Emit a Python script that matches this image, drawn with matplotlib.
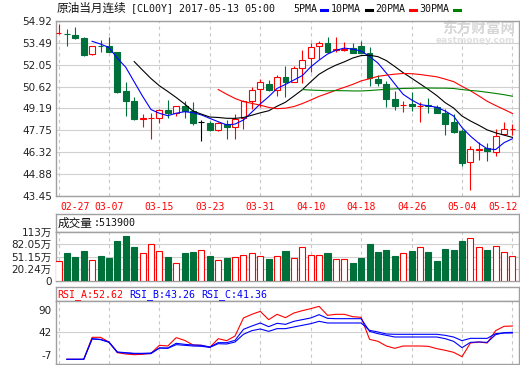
import numpy as np
import pandas as pd
import matplotlib
matplotlib.use("Agg")
import matplotlib.pyplot as plt
from matplotlib.lines import Line2D

# trading days shown on the chart
dates = ["02-27", "02-28", "03-01", "03-02", "03-03", "03-06", "03-07", "03-08", "03-09", "03-10",
         "03-13", "03-14", "03-15", "03-16", "03-17", "03-20", "03-21", "03-22", "03-23", "03-24",
         "03-27", "03-28", "03-29", "03-30", "03-31", "04-03", "04-04", "04-05", "04-06", "04-07",
         "04-10", "04-11", "04-12", "04-13", "04-14", "04-17", "04-18", "04-19", "04-20", "04-21",
         "04-24", "04-25", "04-26", "04-27", "04-28", "05-01", "05-02", "05-03", "05-04", "05-05",
         "05-08", "05-09", "05-10", "05-11", "05-12"]

opens = [54.13, 54.10, 54.02, 53.82, 52.74, 53.29, 53.27, 52.90, 50.31, 49.65,
         48.51, 48.55, 48.57, 49.08, 48.90, 49.34, 49.01, 48.31, 48.22, 47.80,
         48.20, 47.98, 48.55, 49.69, 50.44, 50.79, 50.37, 51.25, 50.94, 51.82,
         52.48, 53.27, 53.47, 53.05, 53.05, 53.12, 53.27, 52.81, 51.10, 50.79,
         49.78, 49.41, 49.49, 49.36, 49.43, 49.27, 48.90, 48.27, 47.69, 45.65,
         46.49, 46.60, 46.31, 47.54, 47.83]
highs = [54.74, 54.37, 54.52, 53.89, 53.31, 53.69, 53.86, 52.92, 50.92, 49.91,
         48.81, 48.90, 49.12, 49.74, 49.38, 49.65, 49.60, 48.42, 48.38, 48.33,
         48.42, 48.81, 49.74, 50.57, 51.10, 51.05, 51.38, 51.98, 51.99, 52.99,
         53.47, 53.58, 53.86, 53.86, 53.53, 53.47, 53.60, 53.20, 51.41, 51.01,
         50.35, 49.65, 50.29, 49.58, 49.85, 49.43, 49.14, 48.84, 47.83, 46.73,
         46.97, 46.90, 47.85, 48.27, 48.20]
lows = [54.04, 53.31, 53.71, 52.63, 52.66, 52.88, 52.88, 50.20, 48.70, 48.42,
        47.98, 47.19, 48.25, 48.57, 48.68, 48.57, 48.11, 47.06, 47.72, 47.69,
        47.19, 47.19, 47.87, 49.12, 49.27, 50.31, 50.00, 49.91, 50.90, 50.88,
        51.56, 52.46, 52.92, 52.92, 52.94, 52.83, 52.81, 50.63, 50.63, 49.30,
        49.10, 48.97, 49.03, 48.31, 48.88, 48.86, 47.48, 47.61, 45.41, 43.82,
        45.81, 45.72, 46.09, 47.50, 47.45]
closes = [54.15, 54.08, 53.78, 52.66, 53.27, 53.26, 52.92, 50.29, 49.69, 48.51,
          48.53, 48.57, 49.06, 48.90, 49.32, 49.03, 48.25, 48.31, 47.78, 48.22,
          48.00, 48.51, 49.65, 50.37, 50.90, 50.37, 51.23, 50.94, 51.82, 52.35,
          53.20, 53.47, 52.92, 53.07, 53.07, 52.85, 52.85, 51.16, 50.88, 49.78,
          49.32, 49.43, 49.32, 49.38, 49.34, 48.86, 48.20, 47.67, 45.61, 46.55,
          46.51, 46.38, 47.41, 47.87, 47.85]

# volume in 万
volumes = [40.8, 59.7, 49.4, 64.9, 43.4, 52.0, 46.9, 90.6, 103.5, 75.2,
           58.9, 82.0, 64.0, 49.4, 35.7, 59.7, 62.3, 66.6, 52.0, 43.4,
           46.9, 51.1, 53.7, 58.9, 52.0, 44.3, 52.0, 64.9, 46.9, 74.3,
           54.6, 54.6, 59.7, 46.0, 46.0, 34.0, 46.9, 82.9, 62.3, 67.4,
           52.9, 58.9, 64.9, 74.3, 62.3, 39.1, 70.0, 67.4, 90.6, 98.3,
           75.2, 67.4, 77.7, 61.4, 51.39]

rsi_a = [np.nan, -16.3, -16.3, -16.3, 31.1, 31.1, 21.0, -2.0, -4.8, -6.3,
         -5.5, -3.4, 13.9, 12.4, 30.4, 24.6, 14.6, 13.9, 9.5, 28.2,
         23.9, 34.0, 72.8, 80.7, 87.1, 69.2, 80.7, 73.5, 83.5, 88.6,
         92.9, 97.9, 78.5, 80.7, 80.7, 75.6, 74.2, 26.8, 22.5, 12.4,
         7.4, 12.4, 12.4, 12.4, 11.7, 6.7, 3.1, -1.2, -10.6, 18.9,
         21.0, 18.9, 45.5, 54.8, 55.5]
rsi_b = [np.nan, -16.3, -16.3, -16.3, 28.2, 26.8, 21.0, -0.5, -2.0, -3.4,
         -3.4, -2.7, 8.1, 8.1, 18.2, 16.0, 14.6, 13.9, 10.3, 19.6,
         19.6, 24.6, 48.3, 55.5, 62.0, 54.1, 61.3, 59.1, 65.6, 69.2,
         72.8, 79.9, 72.0, 71.3, 71.3, 71.3, 71.3, 44.0, 39.0, 35.4,
         31.8, 31.8, 31.8, 31.8, 31.8, 31.8, 28.2, 22.5, 8.8, 20.3,
         21.0, 20.3, 36.8, 41.1, 41.9]
rsi_c = [np.nan, -16.3, -16.3, -16.3, 27.5, 26.1, 20.3, -1.2, -2.7, -4.1,
         -4.1, -4.1, 8.1, 7.4, 15.3, 13.9, 12.4, 11.7, 9.5, 17.4,
         16.7, 21.0, 37.6, 45.5, 49.1, 44.0, 49.8, 49.8, 53.4, 57.0,
         60.5, 65.6, 62.0, 62.0, 62.0, 62.0, 62.0, 46.2, 42.6, 38.3,
         37.6, 37.6, 37.6, 37.6, 37.6, 37.6, 35.4, 31.8, 23.9, 28.9,
         28.9, 28.9, 39.0, 40.4, 40.4]

price_ticks = [54.92, 53.49, 52.05, 50.62, 49.19, 47.75, 46.32, 44.88, 43.45]
vol_ticks = [20.24, 51.15, 82.05, 113]
rsi_ticks = [-7, 42, 90]
ma_periods = [5, 10, 20, 30]
ma_colors = ["#0000ff", "#000000", "#ff0000", "#008000"]

RED = "#ff0000"
GREEN = "#00703a"
GRID = "#d0d0d0"
BORDER = "#a0a0a0"
LABEL = "#222222"
MONO = ["DejaVu Sans Mono", "Noto Sans CJK SC"]
SANS = ["DejaVu Sans", "Noto Sans CJK SC"]

W, H = 520, 365
fig = plt.figure(figsize=(W / 100, H / 100), dpi=100)
fig.patch.set_facecolor("white")


def box(x0, y0, x1, y1):
    return [x0 / W, 1 - y1 / H, (x1 - x0) / W, (y1 - y0) / H]


def fpos(x, y):
    return x / W, 1 - y / H


ax = fig.add_axes(box(56, 21, 519, 196))
axvh = fig.add_axes(box(56, 214, 519, 232))
axv = fig.add_axes(box(56, 232, 519, 281))
axrh = fig.add_axes(box(56, 287, 519, 301))
axr = fig.add_axes(box(56, 301, 519, 364))

x = np.arange(len(dates))
o = np.array(opens)
c = np.array(closes)
up = c > o
flat = c == o
vol_red = c >= o

for a in [ax, axvh, axv, axrh, axr]:
    for s in a.spines.values():
        s.set_color(BORDER)
        s.set_linewidth(1)
    a.set_xlim(-0.3, 54.78)

for a in [axvh, axrh]:
    a.set_xticks([])
    a.set_yticks([])

for a in [ax, axv, axr]:
    a.set_xticks(range(0, len(dates), 6))
    a.tick_params(axis="x", length=0, labelbottom=False)
    a.tick_params(axis="y", length=0, pad=3, labelsize=7.5, labelcolor=LABEL)
    a.grid(axis="x", color="#c8c8c8", linestyle=(0, (3, 3)), linewidth=0.8)
    a.set_axisbelow(True)

# ---- price panel ----
ax.set_ylim(43.45, 54.92)
ax.set_yticks(price_ticks)
ax.set_yticklabels(["%.2f" % v for v in price_ticks], family=SANS)
ax.grid(axis="y", color=GRID, linewidth=0.8)

wick_col = [("#000000" if f else (RED if u else GREEN)) for u, f in zip(up, flat)]
ax.vlines(x, lows, highs, colors=wick_col, linewidth=0.8, zorder=2)
body_bottom = np.minimum(o, c)
body_h = np.abs(c - o)
face = ["white" if (u or f) else GREEN for u, f in zip(up, flat)]
ax.bar(x, body_h, bottom=body_bottom, width=0.7, color=face, edgecolor=wick_col,
       linewidth=0.8, zorder=3)

close_s = pd.Series(closes)
for n, col in zip(ma_periods, ma_colors):
    ax.plot(x, close_s.rolling(n).mean(), color=col, linewidth=0.8, zorder=4)

last_tick = list(range(0, len(dates), 6))[-1]
for i in range(0, len(dates), 6):
    dx, ha = 0, "center"
    if i == 0:
        dx = 17
    elif i == last_tick:
        dx, ha = 5, "right"   # keep the last label inside the figure
    ax.annotate(dates[i], (i, 0), xycoords=("data", "axes fraction"),
                xytext=(dx, -11), textcoords="offset pixels",
                ha=ha, va="center", color=RED, fontsize=7, family=MONO,
                annotation_clip=False)

# title and legend
fig.text(*fpos(57, 8), "原油当月连续", fontsize=8.4, family=SANS, va="center", color="#111111")
fig.text(*fpos(131, 8), "[CL00Y] 2017-05-13 05:00", fontsize=7.2, family=MONO, va="center", color="#111111")
leg_x = [293, 331, 375, 419]
for n, col, lx in zip(ma_periods, ma_colors, leg_x):
    label = "%dPMA" % n
    fig.text(*fpos(lx, 9), label, fontsize=7.2, family=MONO, va="center", color="#111111")
    sx = lx + len(label) * 6.1 + 4
    fig.add_artist(Line2D([sx / W, (sx + 6) / W], [1 - 9.5 / H, 1 - 9.5 / H],
                          color=col, linewidth=2.2, transform=fig.transFigure))

# watermark
ax.text(0.992, 0.955, "东方财富网", transform=ax.transAxes, ha="right", va="center",
        fontsize=10.5, fontweight="bold", family=SANS, color="#d6d6d6", zorder=1)
ax.text(0.992, 0.89, "eastmoney.com", transform=ax.transAxes, ha="right", va="center",
        fontsize=6.5, fontweight="bold", family=SANS, color="#e0e0e0", zorder=1)

# ---- volume panel ----
vmin = vol_ticks[0] - (vol_ticks[1] - vol_ticks[0])
axv.set_ylim(vmin, vol_ticks[-1])
axv.set_yticks([vmin] + vol_ticks)
axv.set_yticklabels(["0"] + ["%g万" % v for v in vol_ticks], family=SANS)
axv.grid(axis="y", color=GRID, linewidth=0.8)
vol = np.array(volumes)
axv.bar(x, vol - vmin, bottom=vmin, width=0.72,
        color=["white" if r else GREEN for r in vol_red],
        edgecolor=[RED if r else GREEN for r in vol_red], linewidth=0.8, zorder=3)
axvh.text(0.004, 0.5, "成交量", transform=axvh.transAxes, fontsize=8.4, family=SANS,
          va="center", color="#111111")
axvh.text(0.082, 0.5, ":%d" % round(volumes[-1] * 10000), transform=axvh.transAxes,
          fontsize=7.2, family=MONO, va="center", color="#111111")

# ---- RSI panel ----
axr.set_ylim(-26.4, 109.4)
axr.set_yticks(rsi_ticks)
axr.set_yticklabels([str(v) for v in rsi_ticks], family=SANS)
axr.axhline(42, color=GRID, linewidth=0.8, zorder=1)
axr.plot(x, rsi_a, color=RED, linewidth=0.8, zorder=3)
axr.plot(x, rsi_b, color="#0000ff", linewidth=0.8, zorder=3)
axr.plot(x, rsi_c, color="#0000ff", linewidth=0.8, zorder=3)
rsi_head = [("RSI_A:52.62", RED, 57), ("RSI_B:43.26", "#0000ff", 129), ("RSI_C:41.36", "#0000ff", 201)]
for txt, col, hx in rsi_head:
    fig.text(*fpos(hx, 294.5), txt, fontsize=7.2, family=MONO, va="center", color=col)

fig.savefig("out.png", dpi=100, facecolor="white")
